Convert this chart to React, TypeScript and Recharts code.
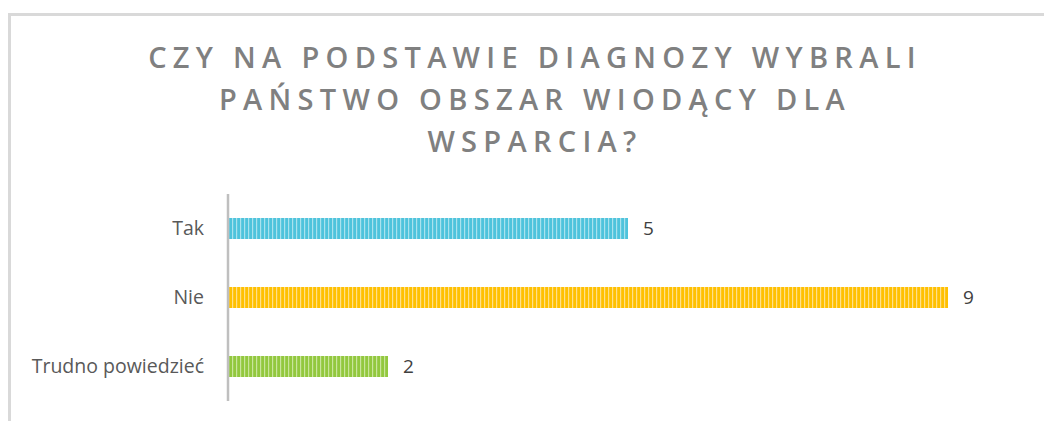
import React from 'react';
import { BarChart, Bar, XAxis, YAxis, LabelList, Cell } from 'recharts';

const categories = ['Tak', 'Nie', 'Trudno powiedzieć'];
const values = [5, 9, 2];
const baseColors = ['#4ec3dc', '#ffc000', '#92c83e'];
const stripeColors = ['#a9e2ee', '#ffe08a', '#c9e59c'];
const titleLines = ['CZY NA PODSTAWIE DIAGNOZY WYBRALI', 'PAŃSTWO OBSZAR WIODĄCY DLA', 'WSPARCIA?'];

const data = categories.map((c, i) => ({ name: c, value: values[i] }));

export default function App() {
  return (
    <div style={{ position: 'absolute', left: 0, top: 0, width: 1044, height: 421, background: '#fff', overflow: 'hidden' }}>
      <div style={{ position: 'absolute', left: 8, top: 13, width: 1050, height: 420, borderTop: '3px solid #d9d9d9', borderLeft: '3px solid #d9d9d9', boxSizing: 'border-box' }} />
      <div style={{ position: 'absolute', left: 35, width: 1000, top: 36, textAlign: 'center', fontFamily: '"Open Sans", sans-serif', fontWeight: 600, fontSize: 29, letterSpacing: 6.3, lineHeight: '42px', color: '#808080' }}>
        {titleLines.map((l, i) => (<div key={i}>{l}</div>))}
      </div>
      <div style={{ position: 'absolute', left: 0, top: 0 }}>
        <BarChart width={1044} height={421} data={data} layout="vertical" margin={{ top: 194, bottom: 20, left: 0, right: 96 }}>
          <defs>
            {baseColors.map((c, i) => (
              <pattern key={i} id={`stripe${i}`} width={4} height={10} patternUnits="userSpaceOnUse">
                <rect x={0} y={0} width={4} height={10} fill={c} />
                <rect x={0} y={0} width={1.2} height={10} fill={stripeColors[i]} />
              </pattern>
            ))}
          </defs>
          <XAxis type="number" domain={[0, 9]} hide />
          <YAxis
            type="category"
            dataKey="name"
            width={228}
            tickSize={0}
            tickMargin={24}
            axisLine={{ stroke: '#bfbfbf', strokeWidth: 2.5 }}
            tick={{ fill: '#595959', fontSize: 19.5, fontFamily: '"Open Sans", sans-serif' }}
          />
          <Bar dataKey="value" barSize={21} isAnimationActive={false}>
            {data.map((d, i) => (
              <Cell key={i} fill={`url(#stripe${i})`} />
            ))}
            <LabelList dataKey="value" position="right" offset={15} fill="#404040" fontSize={19} fontFamily='"Open Sans", sans-serif' />
          </Bar>
        </BarChart>
      </div>
    </div>
  );
}
